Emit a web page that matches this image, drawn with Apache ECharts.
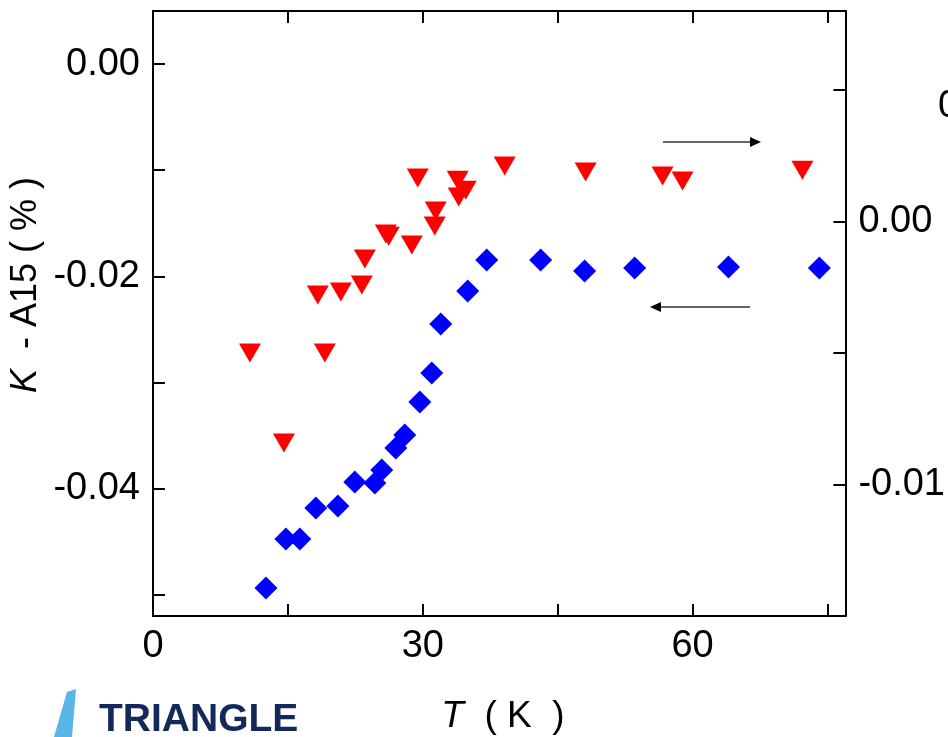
<!DOCTYPE html>
<html>
<head>
<meta charset="utf-8">
<script src="https://cdn.jsdelivr.net/npm/echarts@6/dist/echarts.min.js"></script>
<style>
  html, body { margin: 0; padding: 0; background: #fff; }
  #chart { width: 948px; height: 737px; }
</style>
</head>
<body>
<div id="chart"></div>
<script>
// Temperature (K) and K - A15 (%) for the blue set (left axis)
const tempBlue = [12.56, 14.78, 16.33, 18.11, 20.56, 22.44, 24.67, 25.44, 27.0, 28.0,
                  29.67, 31.0, 32.0, 35.0, 37.11, 43.11, 48.0, 53.56, 64.0, 74.11];
const shiftBlue = [-0.04936, -0.04475, -0.04475, -0.04183, -0.04164, -0.03937, -0.03947, -0.03825, -0.03617, -0.03495,
                   -0.03184, -0.02911, -0.02449, -0.02138, -0.01846, -0.01846, -0.01950, -0.01921, -0.01912, -0.01921];

// Temperature (K) and shift for the red set (right axis)
const tempRed = [10.78, 14.56, 18.33, 19.11, 20.89, 23.22, 23.56, 25.89, 26.22, 28.78,
                 29.44, 31.33, 31.44, 33.89, 34.0, 34.78, 39.11, 48.11, 56.67, 58.89, 72.22];
const shiftRed = [-0.00500, -0.00842, -0.00280, -0.00500, -0.00268, -0.00242, -0.00143, -0.00048, -0.00056, -0.00090,
                  0.00165, -0.00017, 0.00040, 0.00157, 0.00093, 0.00119, 0.00211, 0.00188, 0.00173, 0.00154, 0.00195];

// Axis ticks and labels
const xTicks = [0, 15, 30, 45, 60, 75];
const xLabels = [0, 30, 60];
const leftTicks = [-0.05, -0.04, -0.03, -0.02, -0.01, 0];
const leftLabels = [-0.04, -0.02, 0];
const rightTicks = [-0.01, -0.005, 0, 0.005];
const rightLabels = [-0.01, 0];

const FONT = '"Liberation Sans", Arial, sans-serif';
const LABEL_SIZE = 38;

const zip = (xs, ys) => xs.map((x, i) => [x, ys[i]]);

const chart = echarts.init(document.getElementById('chart'), null, { renderer: 'canvas' });

const axisLine = { show: true, onZero: false, lineStyle: { color: '#000', width: 2 } };
const tickStyle = { color: '#000', width: 2 };

const option = {
  animation: false,
  backgroundColor: '#fff',
  grid: { left: 153, right: 102, top: 11, bottom: 121, containLabel: false },
  xAxis: [
    {
      type: 'value', position: 'bottom', min: 0, max: 77,
      axisLine: axisLine,
      axisTick: { show: true, inside: true, length: 12, lineStyle: tickStyle, customValues: xTicks },
      axisLabel: {
        customValues: xLabels, fontFamily: FONT, fontSize: LABEL_SIZE, color: '#000', margin: 12,
        formatter: v => String(v)
      },
      splitLine: { show: false }
    },
    {
      type: 'value', position: 'top', min: 0, max: 77,
      axisLine: axisLine,
      axisTick: { show: true, inside: true, length: 12, lineStyle: tickStyle, customValues: xTicks },
      axisLabel: { show: false },
      splitLine: { show: false }
    }
  ],
  yAxis: [
    {
      type: 'value', position: 'left', min: -0.052, max: 0.005,
      axisLine: axisLine,
      axisTick: { show: true, inside: true, length: 12, lineStyle: tickStyle, customValues: leftTicks },
      axisLabel: {
        customValues: leftLabels, fontFamily: FONT, fontSize: LABEL_SIZE, color: '#000', margin: 13,
        formatter: v => v.toFixed(2)
      },
      splitLine: { show: false }
    },
    {
      type: 'value', position: 'right', min: -0.015, max: 0.008,
      axisLine: axisLine,
      axisTick: { show: true, inside: true, length: 12, lineStyle: tickStyle, customValues: rightTicks },
      axisLabel: {
        customValues: rightLabels, fontFamily: FONT, fontSize: LABEL_SIZE, color: '#000', margin: 13,
        formatter: v => v.toFixed(2)
      },
      splitLine: { show: false }
    }
  ],
  series: [
    {
      name: 'blue', type: 'scatter', xAxisIndex: 0, yAxisIndex: 0,
      symbol: 'diamond', symbolSize: [23, 23],
      itemStyle: { color: '#0000ff', opacity: 1 },
      data: zip(tempBlue, shiftBlue)
    },
    {
      name: 'red', type: 'scatter', xAxisIndex: 0, yAxisIndex: 1,
      symbol: 'path://M0,0L22,0L11,19Z', symbolSize: [22, 19],
      itemStyle: { color: '#ff0000', opacity: 1 },
      data: zip(tempRed, shiftRed)
    }
  ],
  graphic: [
    // axis titles
    {
      type: 'text', x: 503, y: 717,
      style: {
        text: '{i|T}  ( K  )', fontFamily: FONT, fontSize: 37, fill: '#000',
        align: 'center', verticalAlign: 'middle',
        rich: { i: { fontStyle: 'italic', fontFamily: FONT, fontSize: 37 } }
      }
    },
    {
      type: 'text', x: 26, y: 285, rotation: Math.PI / 2,
      style: {
        text: '{i|K}  - A15 ( % )', fontFamily: FONT, fontSize: 36, fill: '#000',
        align: 'center', verticalAlign: 'middle',
        rich: { i: { fontStyle: 'italic', fontFamily: FONT, fontSize: 36 } }
      }
    },
    // partially visible label at the right edge
    {
      type: 'text', x: 938, y: 107,
      style: { text: '0.005', fontFamily: FONT, fontSize: LABEL_SIZE, fill: '#000', verticalAlign: 'middle' }
    },
    // arrow pointing to the right axis
    { type: 'line', shape: { x1: 663, y1: 142, x2: 751, y2: 142 }, style: { stroke: '#333', lineWidth: 1.6 } },
    { type: 'polygon', shape: { points: [[750, 137], [761, 142], [750, 147]] }, style: { fill: '#000' } },
    // arrow pointing to the left axis
    { type: 'line', shape: { x1: 750, y1: 307, x2: 660, y2: 307 }, style: { stroke: '#333', lineWidth: 1.6 } },
    { type: 'polygon', shape: { points: [[661, 302], [650, 307], [661, 312]] }, style: { fill: '#000' } },
    // logo
    { type: 'polygon', shape: { points: [[67, 692], [76, 689], [72, 737], [54, 737]] }, style: { fill: '#58b6e6' } },
    {
      type: 'text', left: 99, top: 701,
      style: { text: 'TRIANGLE', fontFamily: FONT, fontWeight: 'bold', fontSize: 39, fill: '#13295b' }
    }
  ]
};

chart.setOption(option);
</script>
</body>
</html>
